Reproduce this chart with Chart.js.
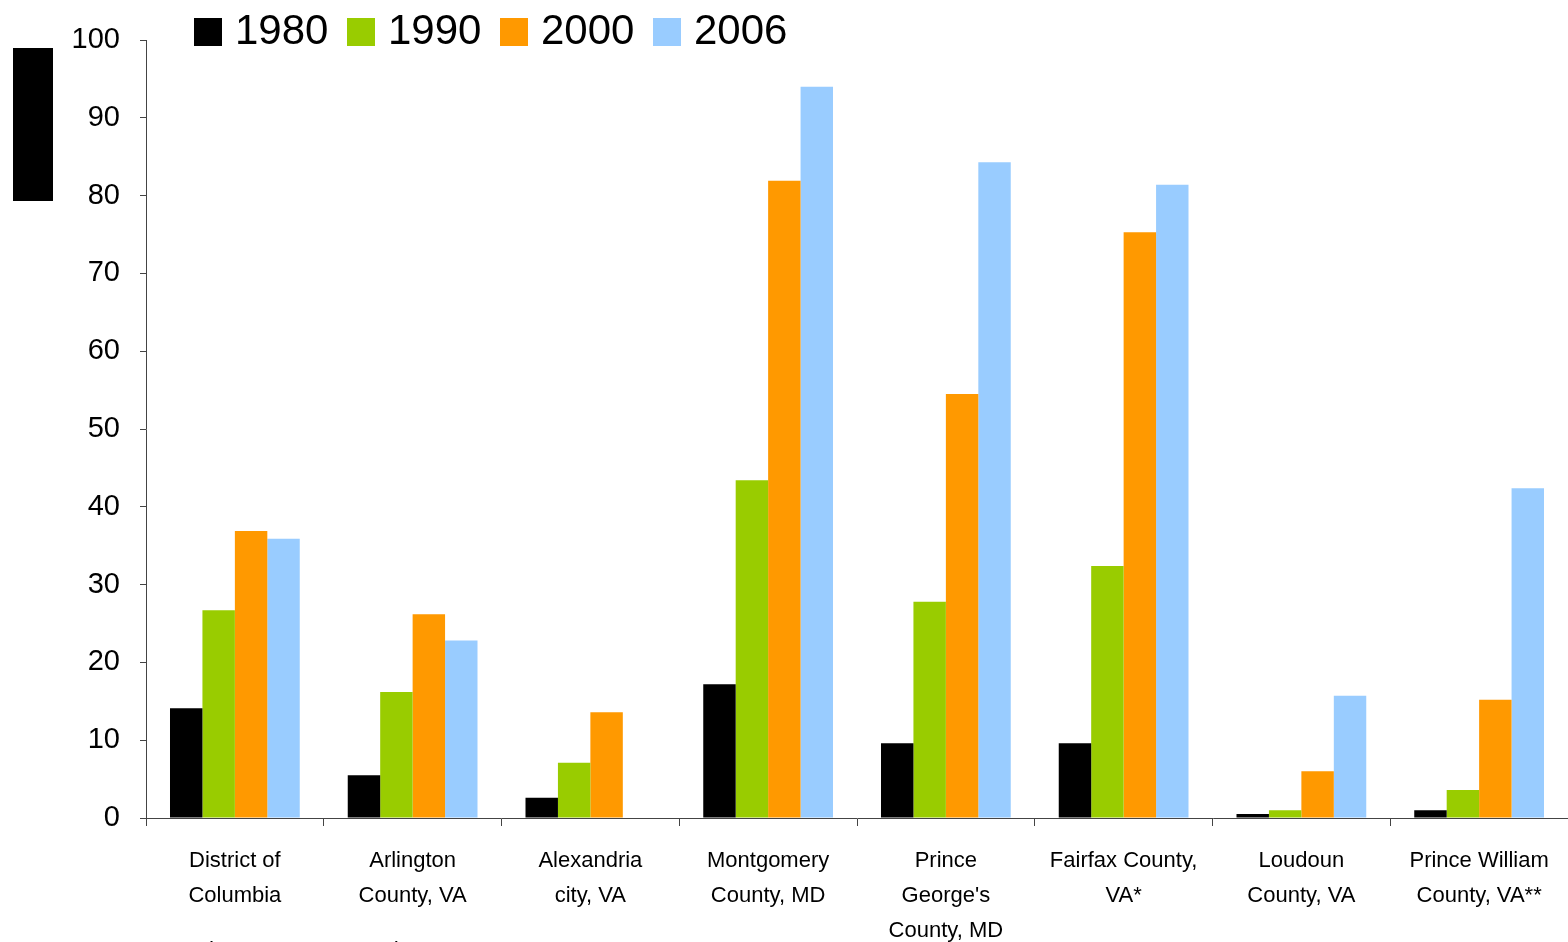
<!DOCTYPE html>
<html>
<head>
<meta charset="utf-8">
<script src="https://cdn.jsdelivr.net/npm/chart.js@4"></script>
<style>
  html, body { margin: 0; padding: 0; background: #fff; overflow: hidden; }
  #wrap { position: relative; width: 1568px; height: 942px; }
  #legend { position: absolute; left: 194px; top: 6px; display: flex; font-family: "Liberation Sans", Arial, sans-serif; font-size: 42px; }
  #legend .item { display: flex; align-items: center; width: 153px; }
  #legend .box { width: 28px; height: 28px; margin-right: 13px; margin-top: 4px; }
  #ytitle { position: absolute; left: 13px; top: 48px; width: 40px; height: 153px; background: #000; color: #000; font-size: 10px; }
  #source { position: absolute; left: 55px; top: 937px; font-family: "Liberation Sans", Arial, sans-serif; font-size: 22px; white-space: nowrap; }
</style>
</head>
<body>
<div id="wrap">
  <canvas id="chart" width="1568" height="942"></canvas>
  <div id="ytitle">%</div>
  <div id="legend"></div>
  <div id="source">1980, 1990, and 2000 Census, and 2006 ACS</div>
</div>
<script>
// categories and values
const categories = [
  ['District of', 'Columbia'],
  ['Arlington', 'County, VA'],
  ['Alexandria', 'city, VA'],
  ['Montgomery', 'County, MD'],
  ['Prince', "George's", 'County, MD'],
  ['Fairfax County,', 'VA*'],
  ['Loudoun', 'County, VA'],
  ['Prince William', 'County, VA**']
];
const years = ['1980', '1990', '2000', '2006'];
const v1980 = [14.1, 5.5, 2.6, 17.2, 9.6, 9.6, 0.5, 1.0];
const v1990 = [26.7, 16.2, 7.1, 43.4, 27.8, 32.4, 1.0, 3.6];
const v2000 = [36.9, 26.2, 13.6, 81.9, 54.5, 75.3, 6.0, 15.2];
const v2006 = [35.9, 22.8, null, 94.0, 84.3, 81.4, 15.7, 42.4];
const colors = ['#000000', '#99cc00', '#ff9900', '#99ccff'];
const yTicks = [0, 10, 20, 30, 40, 50, 60, 70, 80, 90, 100];

const series = [v1980, v1990, v2000, v2006];

// legend drawn as html so it can sit left of centre over the plot
const legendEl = document.getElementById('legend');
years.forEach((y, i) => {
  const item = document.createElement('div');
  item.className = 'item';
  item.innerHTML = '<span class="box" style="background:' + colors[i] + '"></span><span>' + y + '</span>';
  legendEl.appendChild(item);
});

const ctx = document.getElementById('chart');
new Chart(ctx, {
  type: 'bar',
  data: {
    labels: categories,
    datasets: series.map((d, i) => ({
      label: years[i],
      data: d,
      backgroundColor: colors[i],
      borderWidth: 0,
      barPercentage: 1.0,
      categoryPercentage: 0.73
    }))
  },
  options: {
    responsive: false,
    animation: false,
    layout: { padding: { top: 40, right: 0, left: 0, bottom: 0 } },
    plugins: {
      legend: { display: false },
      tooltip: { enabled: false }
    },
    scales: {
      x: {
        grid: { offset: true, drawOnChartArea: false, tickLength: 8, color: '#444', lineWidth: 1 },
        border: { color: '#444', width: 1 },
        ticks: {
          color: '#000',
          padding: 17,
          maxRotation: 0,
          autoSkip: false,
          font: { family: '"Liberation Sans Narrow", "Liberation Sans", Arial, sans-serif', size: 22, lineHeight: 1.6 }
        },
        afterFit: (s) => { s.height = 124; }
      },
      y: {
        min: 0,
        max: 100,
        afterBuildTicks: (s) => { s.ticks = yTicks.map(v => ({ value: v })); },
        grid: { drawOnChartArea: false, tickLength: 6, color: '#444', lineWidth: 1 },
        border: { color: '#444', width: 1 },
        ticks: {
          color: '#000',
          padding: 20,
          font: { family: '"Liberation Sans", Arial, sans-serif', size: 29 }
        },
        afterFit: (s) => { s.width = 146; }
      }
    }
  }
});
</script>
</body>
</html>
